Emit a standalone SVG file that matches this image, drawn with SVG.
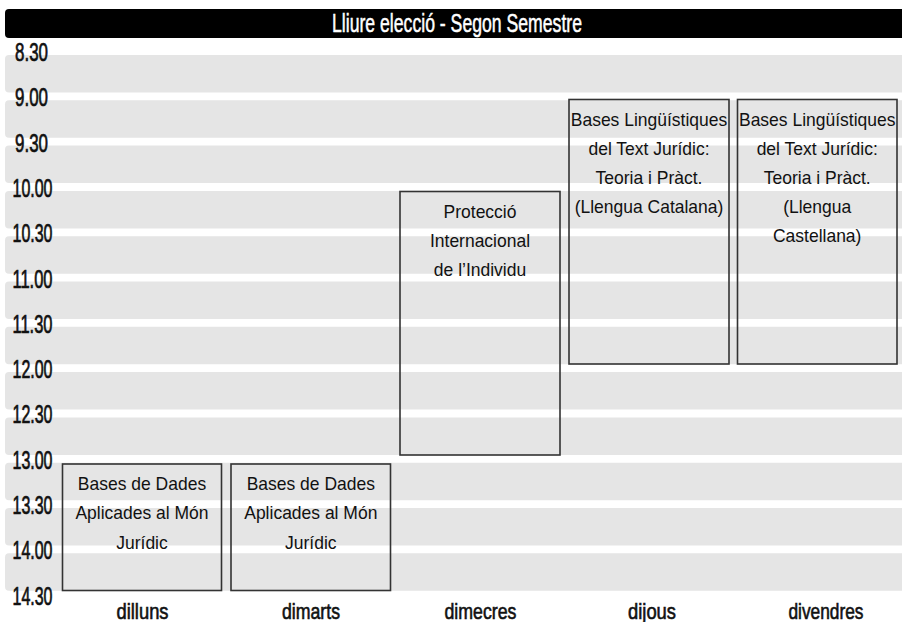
<svg xmlns="http://www.w3.org/2000/svg" width="902" height="622" viewBox="0 0 902 622">
<style>
.band{fill:#e5e5e5}
.tl{font-family:"Liberation Sans",Arial,sans-serif;font-size:25px;fill:#111;stroke:#111;stroke-width:0.7;text-anchor:middle}
.day{font-family:"Liberation Sans",Arial,sans-serif;font-size:21.5px;fill:#111;stroke:#111;stroke-width:0.6;text-anchor:middle}
.title{font-family:"Liberation Sans",Arial,sans-serif;font-size:25px;fill:#fff;stroke:#fff;stroke-width:0.5;text-anchor:middle}
.box{fill:none;stroke:#333;stroke-width:1.6}
.bt{font-family:"Liberation Sans",Arial,sans-serif;font-size:18.6px;fill:#111;text-anchor:middle}
</style>
<rect width="902" height="622" fill="#fff"/>
<g id="title">
<rect x="5" y="9" width="910" height="29" rx="4" fill="#000"/>
<text class="title" x="457" y="32" textLength="250" lengthAdjust="spacingAndGlyphs">Lliure elecció - Segon Semestre</text>
</g>
<g id="bands">
<rect class="band" x="5" y="55" width="910" height="37.5" rx="4"/>
<rect class="band" x="5" y="100.3" width="910" height="37.5" rx="4"/>
<rect class="band" x="5" y="145.6" width="910" height="37.5" rx="4"/>
<rect class="band" x="5" y="190.9" width="910" height="37.5" rx="4"/>
<rect class="band" x="5" y="236.2" width="910" height="37.5" rx="4"/>
<rect class="band" x="5" y="281.5" width="910" height="37.5" rx="4"/>
<rect class="band" x="5" y="326.8" width="910" height="37.5" rx="4"/>
<rect class="band" x="5" y="372.1" width="910" height="37.5" rx="4"/>
<rect class="band" x="5" y="417.4" width="910" height="37.5" rx="4"/>
<rect class="band" x="5" y="462.7" width="910" height="37.5" rx="4"/>
<rect class="band" x="5" y="508" width="910" height="37.5" rx="4"/>
<rect class="band" x="5" y="553.3" width="910" height="37.5" rx="4"/>
</g>
<g id="times">
<text class="tl" x="31.5" y="61" textLength="33" lengthAdjust="spacingAndGlyphs">8.30</text>
<text class="tl" x="31.5" y="106.3" textLength="33" lengthAdjust="spacingAndGlyphs">9.00</text>
<text class="tl" x="31.5" y="151.6" textLength="33" lengthAdjust="spacingAndGlyphs">9.30</text>
<text class="tl" x="32.5" y="196.9" textLength="40" lengthAdjust="spacingAndGlyphs">10.00</text>
<text class="tl" x="32.5" y="242.2" textLength="40" lengthAdjust="spacingAndGlyphs">10.30</text>
<text class="tl" x="32.5" y="287.5" textLength="40" lengthAdjust="spacingAndGlyphs">11.00</text>
<text class="tl" x="32.5" y="332.8" textLength="40" lengthAdjust="spacingAndGlyphs">11.30</text>
<text class="tl" x="32.5" y="378.1" textLength="40" lengthAdjust="spacingAndGlyphs">12.00</text>
<text class="tl" x="32.5" y="423.4" textLength="40" lengthAdjust="spacingAndGlyphs">12.30</text>
<text class="tl" x="32.5" y="468.7" textLength="40" lengthAdjust="spacingAndGlyphs">13.00</text>
<text class="tl" x="32.5" y="514" textLength="40" lengthAdjust="spacingAndGlyphs">13.30</text>
<text class="tl" x="32.5" y="559.3" textLength="40" lengthAdjust="spacingAndGlyphs">14.00</text>
<text class="tl" x="32.5" y="604.6" textLength="40" lengthAdjust="spacingAndGlyphs">14.30</text>
</g>
<g id="days">
<text class="day" x="142.5" y="618.5" textLength="52" lengthAdjust="spacingAndGlyphs">dilluns</text>
<text class="day" x="311" y="618.5" textLength="58" lengthAdjust="spacingAndGlyphs">dimarts</text>
<text class="day" x="480.5" y="618.5" textLength="72" lengthAdjust="spacingAndGlyphs">dimecres</text>
<text class="day" x="652" y="618.5" textLength="48" lengthAdjust="spacingAndGlyphs">dijous</text>
<text class="day" x="826" y="618.5" textLength="75" lengthAdjust="spacingAndGlyphs">divendres</text>
</g>
<g id="dilluns-bases-dades">
<rect class="box" x="62.5" y="464" width="159" height="126.5"/>
<g transform="translate(142 0) scale(0.94 1)">
<text class="bt" x="0" y="490">Bases de Dades</text>
<text class="bt" x="0" y="519.5">Aplicades al Món</text>
<text class="bt" x="0" y="549">Jurídic</text>
</g>
</g>
<g id="dimarts-bases-dades">
<rect class="box" x="231" y="464" width="159.5" height="126.5"/>
<g transform="translate(310.8 0) scale(0.94 1)">
<text class="bt" x="0" y="490">Bases de Dades</text>
<text class="bt" x="0" y="519.5">Aplicades al Món</text>
<text class="bt" x="0" y="549">Jurídic</text>
</g>
</g>
<g id="dimecres-proteccio">
<rect class="box" x="400" y="191.5" width="160" height="263.5"/>
<g transform="translate(480 0) scale(0.94 1)">
<text class="bt" x="0" y="218.3">Protecció</text>
<text class="bt" x="0" y="247.3">Internacional</text>
<text class="bt" x="0" y="276.3">de l’Individu</text>
</g>
</g>
<g id="dijous-bases-linguistiques">
<rect class="box" x="569" y="99.5" width="160" height="264.5"/>
<g transform="translate(649 0) scale(0.94 1)">
<text class="bt" x="0" y="126.5">Bases Lingüístiques</text>
<text class="bt" x="0" y="155.3">del Text Jurídic:</text>
<text class="bt" x="0" y="184.1">Teoria i Pràct.</text>
<text class="bt" x="0" y="212.9">(Llengua Catalana)</text>
</g>
</g>
<g id="divendres-bases-linguistiques">
<rect class="box" x="737.5" y="99.5" width="159.5" height="264.5"/>
<g transform="translate(817.2 0) scale(0.94 1)">
<text class="bt" x="0" y="126.5">Bases Lingüístiques</text>
<text class="bt" x="0" y="155.3">del Text Jurídic:</text>
<text class="bt" x="0" y="184.1">Teoria i Pràct.</text>
<text class="bt" x="0" y="212.9">(Llengua</text>
<text class="bt" x="0" y="241.7">Castellana)</text>
</g>
</g>
<g id="connectors"></g>
</svg>
